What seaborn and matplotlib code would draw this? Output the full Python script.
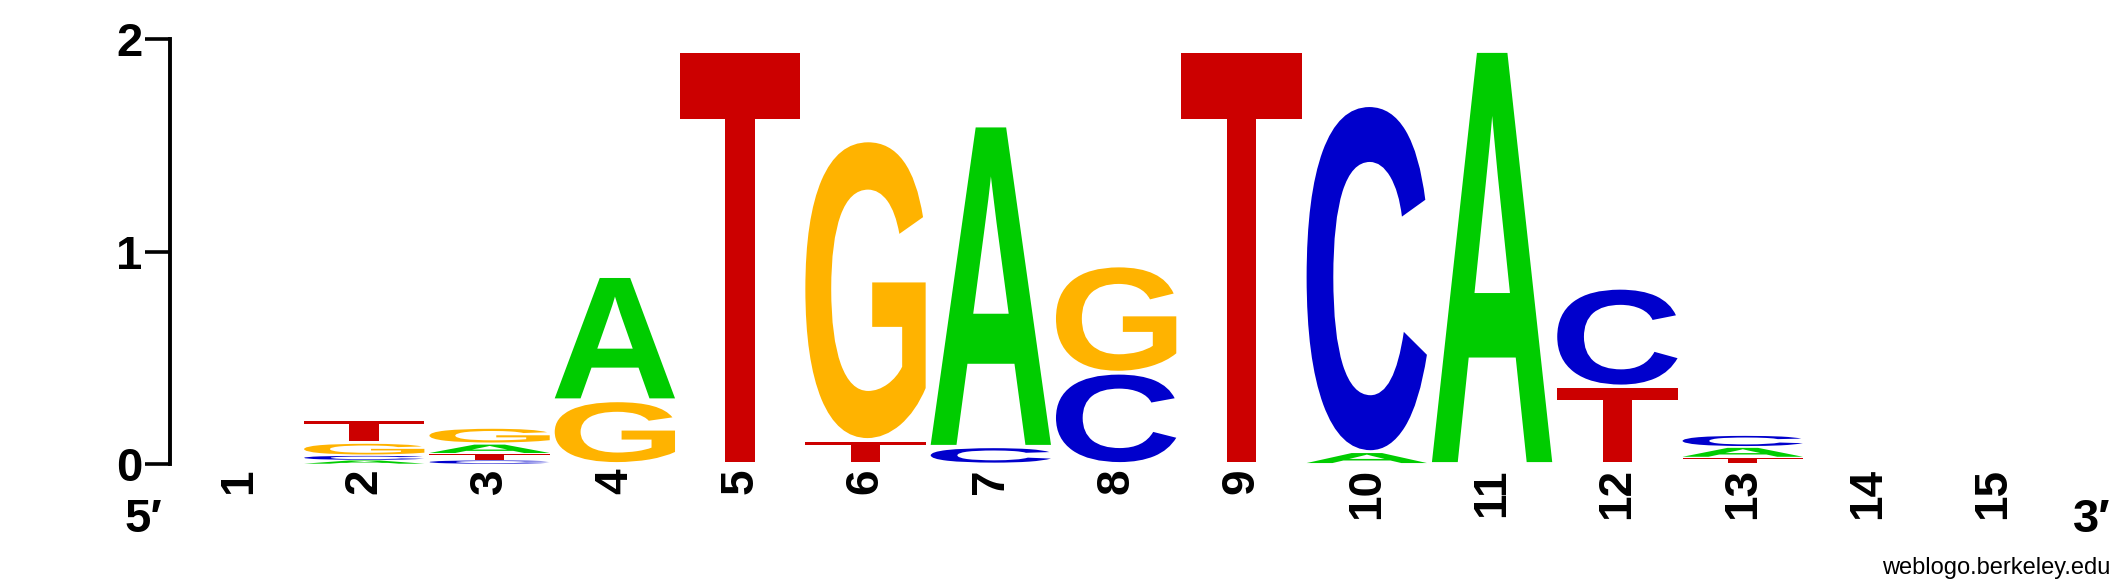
import matplotlib
matplotlib.use("Agg")
import matplotlib.pyplot as plt
import seaborn as sns
from matplotlib.textpath import TextPath
from matplotlib.patches import PathPatch
from matplotlib.font_manager import FontProperties
from matplotlib.transforms import Affine2D

# sequence logo data: bits per letter at each position (bottom -> top order per column)
positions = list(range(1, 16))
stacks = [
    [],                                                   # 1
    [('A', 0.018), ('C', 0.022), ('G', 0.060), ('T', 0.112)],  # 2
    [('C', 0.018), ('T', 0.030), ('A', 0.047), ('G', 0.077)],  # 3
    [('G', 0.300), ('A', 0.585)],                         # 4
    [('T', 1.945)],                                       # 5
    [('T', 0.113), ('G', 1.411)],                         # 6
    [('C', 0.081), ('A', 1.513)],                         # 7
    [('C', 0.430), ('G', 0.505)],                         # 8
    [('T', 1.945)],                                       # 9
    [('A', 0.056), ('C', 1.634)],                         # 10
    [('A', 1.945)],                                       # 11
    [('T', 0.365), ('C', 0.465)],                         # 12
    [('T', 0.030), ('A', 0.050), ('C', 0.057)],           # 13
    [],                                                   # 14
    [],                                                   # 15
]
letter_colors = {'A': '#00CC00', 'C': '#0000CC', 'G': '#FFB300', 'T': '#CC0000'}
y_ticks = [0, 1, 2]

sns.set_style("ticks")
plt.rcParams['font.family'] = ['Liberation Sans', 'DejaVu Sans']
plt.rcParams['font.weight'] = 'bold'
plt.rcParams['text.color'] = 'black'
plt.rcParams['xtick.color'] = 'black'
plt.rcParams['ytick.color'] = 'black'
plt.rcParams['axes.edgecolor'] = 'black'

W, H = 2125, 588
fig = plt.figure(figsize=(W / 100, H / 100), dpi=100)
ax = fig.add_axes([170 / W, 1 - 464 / H, 1886 / W, (464 - 39.3) / H])
ax.set_xlim(0.45, 15.5)
ax.set_ylim(0, 2)

glyph_font = FontProperties(family='Liberation Sans', weight='bold')
col_width = 0.96


def draw_letter(ax, letter, x, y, h):
    path = TextPath((0, 0), letter, size=1, prop=glyph_font)
    ext = path.get_extents()
    pad = min(0.009, h * 0.08)
    hh = h - 2 * pad
    tr = (Affine2D()
          .translate(-ext.x0, -ext.y0)
          .scale(col_width / ext.width, hh / ext.height)
          .translate(x - col_width / 2, y + pad))
    ax.add_patch(PathPatch(tr.transform_path(path), facecolor=letter_colors[letter],
                           edgecolor='none', lw=0))


for pos, stack in zip(positions, stacks):
    base = 0.0
    for letter, bits in stack:
        draw_letter(ax, letter, pos, base, bits)
        base += bits

sns.despine(ax=ax, top=True, right=True, bottom=True)
ax.spines['left'].set_linewidth(2.8)
ax.spines['left'].set_color('black')
ax.spines['left'].set_bounds(0, 2)
ax.set_yticks(y_ticks)
ax.set_yticklabels([str(t) for t in y_ticks], fontsize=34, fontweight='bold', color='black')
ax.tick_params(axis='y', direction='out', length=18, width=2.6, pad=2, colors='black')
ax.set_xticks(positions)
ax.set_xticklabels([str(p) for p in positions], rotation=90, fontsize=33,
                   fontweight='bold', va='top', ha='center', color='black')
ax.tick_params(axis='x', length=0, pad=3)
ax.grid(False)

fig.text(143 / W, 1 - 520 / H, '5\u2032', fontsize=34, fontweight='bold',
         ha='center', va='center', color='black')
fig.text(2092 / W, 1 - 520 / H, '3\u2032', fontsize=34, fontweight='bold',
         ha='center', va='center', color='black')
fig.text(2110 / W, 1 - 568 / H, 'weblogo.berkeley.edu', fontsize=17,
         fontweight='normal', ha='right', va='center', color='black')

fig.savefig("out.png", dpi=100)
